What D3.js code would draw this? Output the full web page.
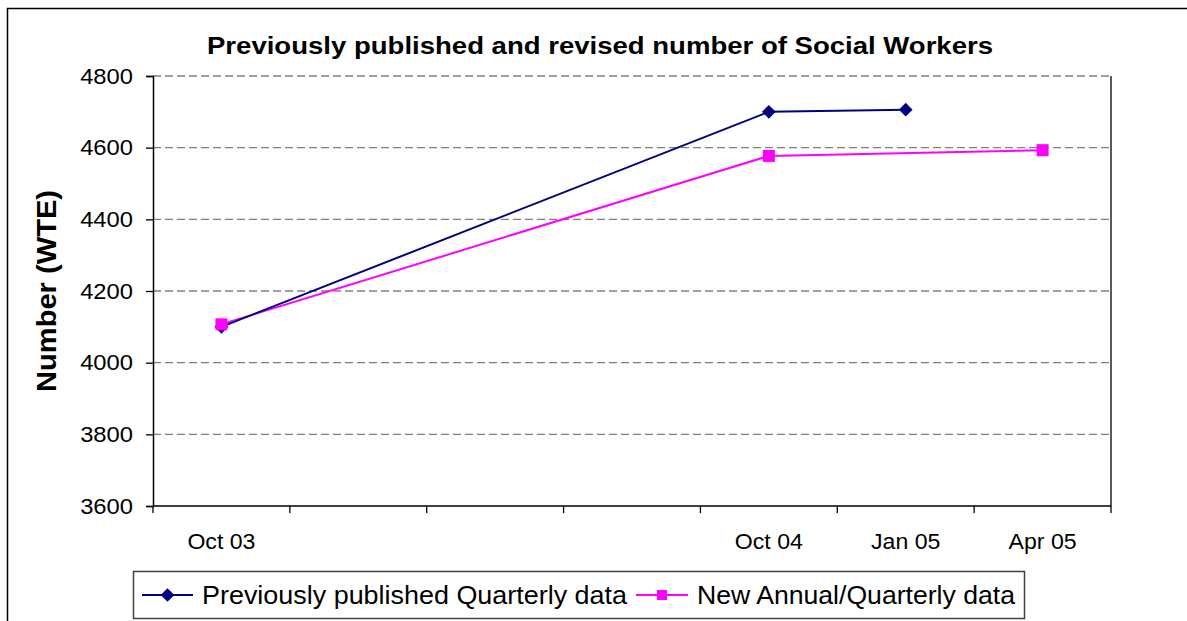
<!DOCTYPE html>
<html>
<head>
<meta charset="utf-8">
<script src="https://cdn.jsdelivr.net/npm/d3@7/dist/d3.min.js"></script>
<style>
  html, body { margin: 0; padding: 0; background: #fff; }
  svg { display: block; font-family: Arial, "Liberation Sans", sans-serif; }
</style>
</head>
<body>
<svg id="chart" width="1187" height="621"></svg>
<script>
// ---- data ----
const title = "Previously published and revised number of Social Workers";
const yAxisTitle = "Number (WTE)";
const categories = ["Oct 03", "", "", "", "Oct 04", "Jan 05", "Apr 05"];
const previousValues = [4100, null, null, null, 4700, 4706, null];
const revisedValues = [4107, null, null, null, 4577, null, 4593];
const seriesNames = ["Previously published Quarterly data", "New Annual/Quarterly data"];
const yTicks = [3600, 3800, 4000, 4200, 4400, 4600, 4800];

// ---- layout ----
const svg = d3.select("#chart");
const plot = { left: 153, right: 1111, top: 76, bottom: 506 };

const x = d3.scaleBand()
  .domain(d3.range(categories.length))
  .range([plot.left, plot.right])
  .paddingInner(0).paddingOuter(0);
const y = d3.scaleLinear().domain([3600, 4800]).range([plot.bottom, plot.top]);

function stretch(sel, target) {
  sel.each(function() {
    const len = this.getComputedTextLength();
    if (!len) return;
    const t = typeof target === "function" ? target(len) : target;
    this.setAttribute("textLength", t);
    this.setAttribute("lengthAdjust", "spacingAndGlyphs");
  });
}

// outer chart border
svg.append("rect")
  .attr("x", 7.5).attr("y", 8.5).attr("width", 1300).attr("height", 800)
  .attr("fill", "none").attr("stroke", "#000").attr("stroke-width", 1.5);

// title
svg.append("text")
  .attr("x", 600).attr("y", 54)
  .attr("text-anchor", "middle")
  .attr("font-size", 23).attr("font-weight", "bold")
  .text(title)
  .call(stretch, 786);

// gridlines
svg.append("g")
  .selectAll("line")
  .data(yTicks.filter(d => d > 3600))
  .join("line")
  .attr("x1", plot.left).attr("x2", plot.right)
  .attr("y1", d => y(d)).attr("y2", d => y(d))
  .attr("stroke", "#808080").attr("stroke-width", 1.3)
  .attr("stroke-dasharray", "8,4");

// right plot border
svg.append("line")
  .attr("x1", plot.right).attr("x2", plot.right)
  .attr("y1", plot.top).attr("y2", plot.bottom)
  .attr("stroke", "#000").attr("stroke-width", 1.3);

// y axis
const yAxis = d3.axisLeft(y).tickValues(yTicks).tickSize(7).tickPadding(13).tickFormat(d3.format("d"));
const gy = svg.append("g").attr("transform", `translate(${plot.left},0)`).call(yAxis);
gy.select(".domain").attr("stroke", "#000").attr("stroke-width", 1.5);
gy.selectAll(".tick line").attr("stroke", "#000").attr("stroke-width", 1.3);
gy.selectAll(".tick text").attr("font-size", 22).attr("fill", "#000")
  .attr("font-family", "Arial, 'Liberation Sans', sans-serif")
  .call(stretch, len => len * 1.08);

// x axis: ticks at category boundaries
const xAxisG = svg.append("g");
xAxisG.append("line")
  .attr("x1", plot.left).attr("x2", plot.right)
  .attr("y1", plot.bottom).attr("y2", plot.bottom)
  .attr("stroke", "#000").attr("stroke-width", 1.5);
const boundaries = d3.range(categories.length + 1).map(i => i < categories.length ? x(i) : x(categories.length - 1) + x.bandwidth());
xAxisG.selectAll("line.tick")
  .data(boundaries)
  .join("line").attr("class", "tick")
  .attr("x1", d => d).attr("x2", d => d)
  .attr("y1", plot.bottom).attr("y2", plot.bottom + 7)
  .attr("stroke", "#000").attr("stroke-width", 1.3);
xAxisG.selectAll("text")
  .data(categories)
  .join("text")
  .attr("x", (d, i) => x(i) + x.bandwidth() / 2)
  .attr("y", 549)
  .attr("text-anchor", "middle")
  .attr("font-size", 22)
  .text(d => d)
  .call(stretch, len => len * 1.05);

// y axis title
svg.append("text")
  .attr("transform", "translate(56,291) rotate(-90)")
  .attr("text-anchor", "middle")
  .attr("font-size", 27).attr("font-weight", "bold")
  .text(yAxisTitle)
  .call(stretch, 202);

// series
const line = d3.line().x(d => x(d.i) + x.bandwidth() / 2).y(d => y(d.v));
function toPoints(vals) {
  return vals.map((v, i) => ({ i, v })).filter(d => d.v !== null);
}
const prevPts = toPoints(previousValues);
const revPts = toPoints(revisedValues);

const navy = "#000080", magenta = "#FF00FF";
const diamond = d3.symbol().type(d3.symbolDiamond2).size(120);

svg.append("path").datum(revPts).attr("d", line)
  .attr("fill", "none").attr("stroke", magenta).attr("stroke-width", 2);
svg.append("path").datum(prevPts).attr("d", line)
  .attr("fill", "none").attr("stroke", navy).attr("stroke-width", 2);

svg.append("g").selectAll("path")
  .data(prevPts).join("path")
  .attr("transform", d => `translate(${x(d.i) + x.bandwidth() / 2},${y(d.v)})`)
  .attr("d", diamond).attr("fill", navy);

svg.append("g").selectAll("rect")
  .data(revPts).join("rect")
  .attr("x", d => x(d.i) + x.bandwidth() / 2 - 6)
  .attr("y", d => y(d.v) - 6)
  .attr("width", 12).attr("height", 12)
  .attr("fill", magenta);

// legend
const lg = svg.append("g");
lg.append("rect")
  .attr("x", 133.5).attr("y", 571.5).attr("width", 891).attr("height", 47)
  .attr("fill", "#fff").attr("stroke", "#404040").attr("stroke-width", 1.5);
const legendItems = [
  { name: seriesNames[0], color: navy, shape: "diamond", x0: 142, x1: 193, tx: 202, tw: 425 },
  { name: seriesNames[1], color: magenta, shape: "square", x0: 636, x1: 688, tx: 697, tw: 318 }
];
const ly = 595;
legendItems.forEach(it => {
  lg.append("line").attr("x1", it.x0).attr("x2", it.x1).attr("y1", ly).attr("y2", ly)
    .attr("stroke", it.color).attr("stroke-width", 2);
  const cx = (it.x0 + it.x1) / 2;
  if (it.shape === "diamond") {
    lg.append("path").attr("transform", `translate(${cx},${ly})`).attr("d", diamond).attr("fill", it.color);
  } else {
    lg.append("rect").attr("x", cx - 5).attr("y", ly - 5).attr("width", 10).attr("height", 10).attr("fill", it.color);
  }
  lg.append("text").attr("x", it.tx).attr("y", ly + 9)
    .attr("font-size", 25).text(it.name)
    .call(stretch, it.tw);
});
</script>
</body>
</html>
